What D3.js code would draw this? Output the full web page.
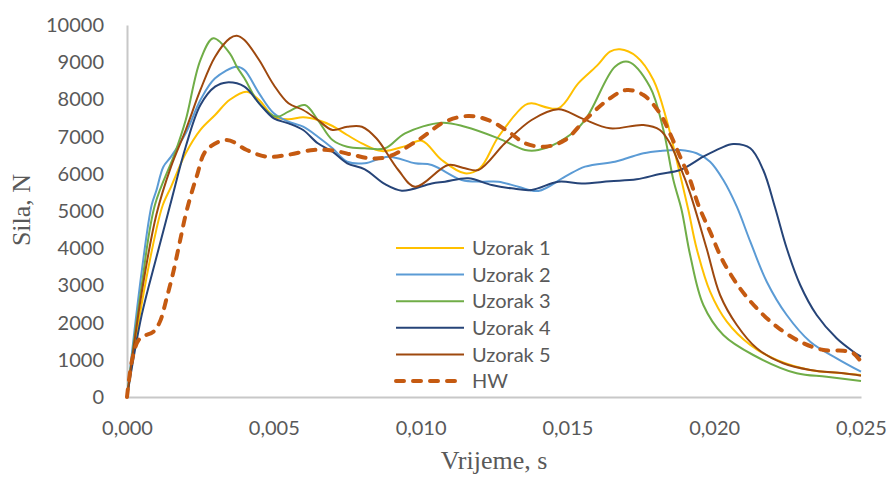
<!DOCTYPE html>
<html>
<head>
<meta charset="utf-8">
<script src="https://cdn.jsdelivr.net/npm/d3@7/dist/d3.min.js"></script>
<style>
  html, body { margin: 0; padding: 0; background: #fff; }
  svg { display: block; }
</style>
</head>
<body>
<svg id="chart" width="888" height="480"></svg>
<script>
// Force–time curves: [time in s, force in N]
const uzorak1 = [[0,0],[0.0005,2500],[0.001,4500],[0.00122,5161],[0.0015,5650],[0.002,6550],[0.0025,7180],[0.003,7580],[0.0035,7990],[0.00408,8207],[0.0045,7984],[0.005,7535],[0.0055,7464],[0.006,7518],[0.0065,7446],[0.007,7285],[0.0075,7043],[0.008,6820],[0.00868,6610],[0.0095,6750],[0.01004,6890],[0.01072,6371],[0.01151,6013],[0.01202,6150],[0.01265,6997],[0.01356,7849],[0.01378,7895],[0.01469,7760],[0.01537,8432],[0.016,8900],[0.01645,9282],[0.01679,9345],[0.01736,9148],[0.01793,8521],[0.01838,7446],[0.01872,6371],[0.01912,5027],[0.0194,3997],[0.01986,2831],[0.02043,2024],[0.02123,1398],[0.02213,995],[0.02327,726],[0.0244,636],[0.025,591]];
const uzorak2 = [[0,0],[0.0005,3370],[0.00084,5161],[0.001,5550],[0.00124,6191],[0.0015,6460],[0.002,7088],[0.0025,7984],[0.003,8567],[0.00374,8880],[0.004,8790],[0.0045,8163],[0.005,7626],[0.0055,7400],[0.006,7266],[0.0065,6997],[0.007,6685],[0.0075,6325],[0.0081,6282],[0.0089,6460],[0.00981,6282],[0.01038,6237],[0.0114,5833],[0.01208,5788],[0.01265,5788],[0.01333,5653],[0.01401,5538],[0.01492,5923],[0.0156,6192],[0.01662,6325],[0.01702,6416],[0.01759,6551],[0.01815,6613],[0.01884,6640],[0.0194,6551],[0.01986,6325],[0.02031,5833],[0.02077,5116],[0.02123,4175],[0.02179,3100],[0.02247,2204],[0.02327,1487],[0.02417,1040],[0.025,680]];
const uzorak3 = [[0,0],[0.0005,3000],[0.00095,5161],[0.00163,6551],[0.002,7446],[0.0025,9059],[0.00294,9642],[0.0035,9239],[0.00374,8880],[0.004,8567],[0.0045,7895],[0.0051,7535],[0.0055,7670],[0.00606,7849],[0.0065,7446],[0.007,6908],[0.0075,6728],[0.0081,6685],[0.00879,6685],[0.00947,7088],[0.01072,7374],[0.01151,7266],[0.01265,6954],[0.01356,6640],[0.01401,6640],[0.01492,6954],[0.0156,7446],[0.01662,8880],[0.01707,9013],[0.01781,8342],[0.01827,7177],[0.01861,5833],[0.01889,5027],[0.01918,3817],[0.01963,2473],[0.02031,1667],[0.02133,1129],[0.02281,636],[0.02383,546],[0.025,430]];
const uzorak4 = [[0,0],[0.0005,2200],[0.001,3750],[0.0015,5250],[0.002,6728],[0.0025,7849],[0.003,8342],[0.0034,8457],[0.004,8342],[0.0045,7895],[0.005,7491],[0.0055,7357],[0.006,7177],[0.0065,6820],[0.007,6594],[0.0075,6282],[0.0081,6120],[0.00879,5720],[0.00936,5546],[0.01038,5742],[0.01083,5788],[0.01162,5878],[0.01242,5699],[0.0131,5609],[0.01378,5565],[0.01469,5788],[0.01549,5742],[0.01645,5800],[0.01736,5851],[0.01815,5995],[0.01884,6102],[0.01963,6460],[0.0202,6685],[0.02065,6801],[0.02123,6685],[0.02167,6102],[0.02207,5100],[0.02247,3997],[0.02293,3011],[0.02349,2204],[0.02417,1578],[0.02474,1218],[0.025,1083]];
const uzorak5 = [[0,0],[0.0005,2800],[0.001,4900],[0.0015,6191],[0.002,7177],[0.0025,8253],[0.003,9148],[0.0035,9642],[0.00374,9713],[0.004,9597],[0.0045,9059],[0.005,8387],[0.0055,7895],[0.006,7715],[0.0065,7446],[0.007,7177],[0.0075,7266],[0.008,7266],[0.0085,6950],[0.00924,6102],[0.00981,5653],[0.01094,6237],[0.01151,6148],[0.01197,6102],[0.01287,6820],[0.01378,7446],[0.01469,7733],[0.01549,7491],[0.01645,7222],[0.01759,7312],[0.01815,7177],[0.01849,6820],[0.01884,6191],[0.01918,5475],[0.01974,3997],[0.0202,2742],[0.02077,1935],[0.02145,1309],[0.02235,906],[0.02327,726],[0.0244,636],[0.025,573]];
const hw = [[0,0],[0.00021,1129],[0.00044,1578],[0.0009,1755],[0.00112,2024],[0.00135,2653],[0.00158,3368],[0.0018,4175],[0.00203,5000],[0.00237,5922],[0.00271,6640],[0.0034,6908],[0.00408,6640],[0.00476,6460],[0.00544,6505],[0.00635,6640],[0.00703,6621],[0.00771,6505],[0.00828,6416],[0.0089,6460],[0.00992,6908],[0.01083,7400],[0.01162,7554],[0.01231,7446],[0.01299,7132],[0.01356,6820],[0.01424,6728],[0.01492,6908],[0.0156,7446],[0.01645,8030],[0.01702,8253],[0.01759,8118],[0.01815,7626],[0.01849,7088],[0.01884,6460],[0.01918,5833],[0.01946,5161],[0.01986,4444],[0.02031,3637],[0.02088,2922],[0.02145,2384],[0.02213,1890],[0.02293,1487],[0.02372,1263],[0.0244,1245],[0.02474,1175],[0.025,949]];

const seriesNames = ["Uzorak 1", "Uzorak 2", "Uzorak 3", "Uzorak 4", "Uzorak 5", "HW"];
const seriesData = [uzorak1, uzorak2, uzorak3, uzorak4, uzorak5, hw];
const seriesColors = ["#FFC000", "#5B9BD5", "#70AD47", "#264478", "#9E480E", "#C55A11"];

const xTicks = [0, 0.005, 0.010, 0.015, 0.020, 0.025];
const yTicks = [0, 1000, 2000, 3000, 4000, 5000, 6000, 7000, 8000, 9000, 10000];

const svg = d3.select("#chart");
const plot = { left: 127, right: 861, top: 25, bottom: 397 };

const x = d3.scaleLinear().domain([0, 0.025]).range([plot.left, plot.right]);
const y = d3.scaleLinear().domain([0, 10000]).range([plot.bottom, plot.top]);

const fmtX = v => d3.format(".3f")(v).replace(".", ",");

// Axes
const yAxis = svg.append("g")
  .attr("transform", `translate(${plot.left},0)`)
  .call(d3.axisLeft(y).tickValues(yTicks).tickSize(0).tickPadding(23).tickFormat(d3.format("d")));
const xAxis = svg.append("g")
  .attr("transform", `translate(0,${plot.bottom})`)
  .call(d3.axisBottom(x).tickValues(xTicks).tickSize(0).tickPadding(24).tickFormat(fmtX));

[yAxis, xAxis].forEach(g => {
  g.select(".domain").attr("stroke", "#C8C8C8").attr("stroke-width", 2);
  g.selectAll("text")
    .attr("fill", "#595959")
    .style("font-family", "Lato, 'Open Sans', sans-serif")
    .style("font-size", "20px");
});

// Curves
const line = d3.line()
  .x(d => x(d[0]))
  .y(d => y(d[1]))
  .curve(d3.curveCatmullRom.alpha(0.5));

const isHW = i => seriesNames[i] === "HW";

svg.append("g")
  .selectAll("path")
  .data(seriesData)
  .join("path")
  .attr("d", line)
  .attr("fill", "none")
  .attr("stroke", (d, i) => seriesColors[i])
  .attr("stroke-width", (d, i) => isHW(i) ? 4 : 2)
  .attr("stroke-dasharray", (d, i) => isHW(i) ? "8,9" : null)
  .attr("stroke-linecap", (d, i) => isHW(i) ? "round" : "butt")
  .attr("stroke-linejoin", "round");

// Axis titles
svg.append("text")
  .attr("transform", `translate(30,210) rotate(-90)`)
  .attr("text-anchor", "middle")
  .attr("fill", "#595959")
  .style("font-family", "'Liberation Serif', 'Times New Roman', serif")
  .style("font-size", "26px")
  .text("Sila, N");

svg.append("text")
  .attr("x", (plot.left + plot.right) / 2)
  .attr("y", 469)
  .attr("text-anchor", "middle")
  .attr("fill", "#595959")
  .style("font-family", "'Liberation Serif', 'Times New Roman', serif")
  .style("font-size", "26px")
  .text("Vrijeme, s");

// Legend
const legend = svg.append("g").attr("transform", "translate(396,248)");
const rows = legend.selectAll("g")
  .data(seriesNames)
  .join("g")
  .attr("transform", (d, i) => `translate(0,${i * 26.6})`);
rows.append("line")
  .attr("x1", 0).attr("x2", 68)
  .attr("y1", 0).attr("y2", 0)
  .attr("stroke", (d, i) => seriesColors[i])
  .attr("stroke-width", (d, i) => isHW(i) ? 4 : 2)
  .attr("stroke-dasharray", (d, i) => isHW(i) ? "8,9" : null)
  .attr("stroke-linecap", (d, i) => isHW(i) ? "round" : "butt");
rows.append("text")
  .attr("x", 76)
  .attr("y", 0)
  .attr("dy", "0.36em")
  .attr("fill", "#595959")
  .style("font-family", "Lato, 'Open Sans', sans-serif")
  .style("font-size", "20px")
  .text(d => d);
</script>
</body>
</html>
